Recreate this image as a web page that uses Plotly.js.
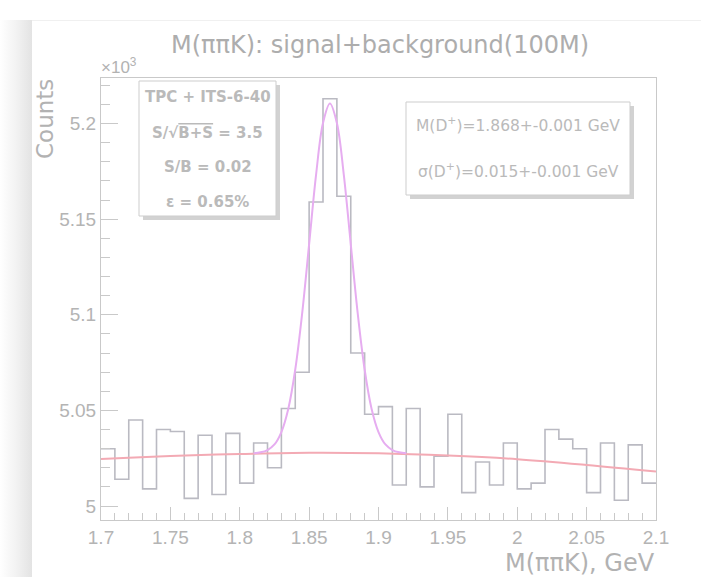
<!DOCTYPE html>
<html>
<head>
<meta charset="utf-8">
<script src="https://cdn.plot.ly/plotly-3.0.1.min.js"></script>
<style>
  html, body { margin: 0; padding: 0; background: #ffffff; }
  #wrap { position: relative; width: 701px; height: 577px; overflow: hidden; background: #ffffff; }
  #leftshade { position: absolute; left: 0; top: 20px; width: 32px; height: 557px;
    background: linear-gradient(to right, #ffffff 0%, #f1f1f1 55%, #e3e3e3 100%); }
  #panel { position: absolute; left: 32px; top: 20px; width: 669px; height: 557px;
    background: #ffffff; border-top: 1px solid #f0f0f0; box-sizing: border-box; }
  #chart { position: absolute; left: 0; top: 0; width: 701px; height: 577px; }
</style>
</head>
<body>
<div id="wrap">
  <div id="leftshade"></div>
  <div id="panel"></div>
  <div id="chart"></div>
</div>
<script>
// ---- data ----
const binLow = [1.70,1.71,1.72,1.73,1.74,1.75,1.76,1.77,1.78,1.79,
                1.80,1.81,1.82,1.83,1.84,1.85,1.86,1.87,1.88,1.89,
                1.90,1.91,1.92,1.93,1.94,1.95,1.96,1.97,1.98,1.99,
                2.00,2.01,2.02,2.03,2.04,2.05,2.06,2.07,2.08,2.09];
const binHighLast = 2.10;
const counts = [5030,5014,5045,5009,5040,5039,5004,5037,5006,5038,
                5012,5033,5020,5051,5070,5159,5213,5162,5080,5048,
                5052,5011,5051,5010,5026,5048,5007,5023,5011,5033,
                5009,5012,5040,5035,5030,5007,5033,5003,5032,5012];

const bgX = [1.70,1.72,1.75,1.80,1.85,1.90,1.95,2.00,2.05,2.10];
const bgY = [5024.6,5025.3,5026.2,5027.2,5027.9,5027.6,5026.4,5024.5,5021.5,5018.0];

const fitX = [1.810,1.815,1.820,1.825,1.830,1.835,1.840,1.845,1.850,1.855,1.860,1.865,
              1.870,1.875,1.880,1.885,1.890,1.895,1.900,1.905,1.910,1.915,1.920];
const fitY = [5027.6,5028.1,5029.3,5032.2,5038.7,5050.9,5071.4,5100.9,5137.0,5173.2,5200.3,5210.5,
              5200.3,5173.2,5137.0,5100.9,5071.4,5050.9,5038.7,5032.2,5029.3,5028.1,5027.6];

const xTickVals = [1.70,1.75,1.80,1.85,1.90,1.95,2.00,2.05,2.10];
const xTickText = ["1.7","1.75","1.8","1.85","1.9","1.95","2","2.05","2.1"];
const yTickVals = [5000,5050,5100,5150,5200];
const yTickText = ["5","5.05","5.1","5.15","5.2"];

const titleText = "M(ππK): signal+background(100M)";
const xTitle = "M(ππK), GeV";
const yTitle = "Counts";
const box1Lines = ["TPC + ITS-6-40",
                   "S/√<span style=\"text-decoration:overline\">B+S</span> = 3.5",
                   "S/B = 0.02",
                   "ε = 0.65%"];
const box2Lines = ["M(D<sup>+</sup>)=1.868+-0.001 GeV",
                   "σ(D<sup>+</sup>)=0.015+-0.001 GeV"];

// ---- layout helpers (pixel -> paper) ----
const W = 701, H = 577;
const L = 101, R = 656, T = 78, B = 520;
function px(x) { return (x - L) / (R - L); }
function py(y) { return (B - y) / (B - T); }

const histX = binLow.concat([binHighLast]);
const histY = counts.concat([counts[counts.length - 1]]);

const traces = [
  { x: histX, y: histY, type: 'scatter', mode: 'lines',
    line: { shape: 'hv', color: '#babac2', width: 1.6 }, hoverinfo: 'skip' },
  { x: bgX, y: bgY, type: 'scatter', mode: 'lines',
    line: { shape: 'spline', color: '#f3aab4', width: 2 }, hoverinfo: 'skip' },
  { x: fitX, y: fitY, type: 'scatter', mode: 'lines',
    line: { shape: 'spline', color: '#e6adf0', width: 2 }, hoverinfo: 'skip' }
];

const txtCol = '#b2b2b2';
const boxTxtCol = '#bababa';

const annotations = [];
// y axis title
annotations.push({ xref: 'paper', yref: 'paper', x: px(45), y: py(77), xanchor: 'center', yanchor: 'top',
  text: yTitle, textangle: -90, showarrow: false,
  font: { family: 'DejaVu Sans', size: 23, color: txtCol } });
// x axis title
annotations.push({ xref: 'paper', yref: 'paper', x: px(657), y: py(563), xanchor: 'right', yanchor: 'middle',
  text: xTitle, showarrow: false,
  font: { family: 'DejaVu Sans', size: 24, color: txtCol } });
// exponent
annotations.push({ xref: 'paper', yref: 'paper', x: px(99), y: py(79), xanchor: 'left', yanchor: 'bottom',
  text: "×10<sup>3</sup>", showarrow: false,
  font: { family: 'Liberation Sans', size: 17, color: txtCol } });
// box 1
const b1y = [97, 133, 167, 202];
box1Lines.forEach((t, i) => annotations.push({ xref: 'paper', yref: 'paper', x: px(207.5), y: py(b1y[i]),
  xanchor: 'center', yanchor: 'middle', text: '<b>' + t + '</b>', showarrow: false,
  font: { family: 'DejaVu Sans', size: 15, color: boxTxtCol } }));
// box 2
const b2y = [125, 170];
box2Lines.forEach((t, i) => annotations.push({ xref: 'paper', yref: 'paper', x: px(518), y: py(b2y[i]),
  xanchor: 'center', yanchor: 'middle', text: t, showarrow: false,
  font: { family: 'DejaVu Sans', size: 15.5, color: boxTxtCol } }));

function rect(x0, y0, x1, y1, fill, line) {
  return { type: 'rect', xref: 'paper', yref: 'paper', x0: px(x0), x1: px(x1), y0: py(y1), y1: py(y0),
    fillcolor: fill, line: line ? { color: line, width: 1 } : { width: 0 }, layer: 'above' };
}
const shapes = [
  rect(143, 85, 280, 220, '#d2d2d2', null),
  rect(139, 81, 276, 216, '#ffffff', '#cdcdcd'),
  rect(410, 106, 634, 199, '#d2d2d2', null),
  rect(406, 102, 630, 195, '#ffffff', '#cdcdcd')
];

const axisCol = '#c9c9c9';
const layout = {
  width: W, height: H, autosize: false,
  margin: { l: L, r: W - R, t: T, b: H - B, pad: 0 },
  paper_bgcolor: 'rgba(0,0,0,0)', plot_bgcolor: 'rgba(0,0,0,0)',
  showlegend: false,
  title: { text: titleText, xref: 'container', yref: 'container', x: 380 / W, xanchor: 'center',
           y: 1 - 45 / H, yanchor: 'middle',
           font: { family: 'DejaVu Sans', size: 24, color: '#adadad' } },
  xaxis: { range: [1.7, 2.1], showgrid: false, zeroline: false,
           showline: true, mirror: true, linecolor: axisCol, linewidth: 1,
           tickmode: 'array', tickvals: xTickVals, ticktext: xTickText,
           ticks: 'inside', ticklen: 13, tickcolor: axisCol, tickwidth: 1,
           minor: { tickmode: 'linear', tick0: 1.7, dtick: 0.01, ticks: 'inside', ticklen: 7, tickcolor: axisCol, tickwidth: 1, showgrid: false },
           tickfont: { family: 'Liberation Sans', size: 19, color: '#b4b4b4' } },
  yaxis: { range: [4992.7, 5223.85], showgrid: false, zeroline: false,
           showline: true, mirror: true, linecolor: axisCol, linewidth: 1,
           tickmode: 'array', tickvals: yTickVals, ticktext: yTickText,
           ticks: 'inside', ticklen: 17, tickcolor: axisCol, tickwidth: 1,
           minor: { tickmode: 'linear', tick0: 5000, dtick: 10, ticks: 'inside', ticklen: 9, tickcolor: axisCol, tickwidth: 1, showgrid: false },
           tickfont: { family: 'Liberation Sans', size: 19, color: '#b4b4b4' } },
  shapes: shapes,
  annotations: annotations
};

Plotly.newPlot('chart', traces, layout, { staticPlot: true, displayModeBar: false });
</script>
</body>
</html>
